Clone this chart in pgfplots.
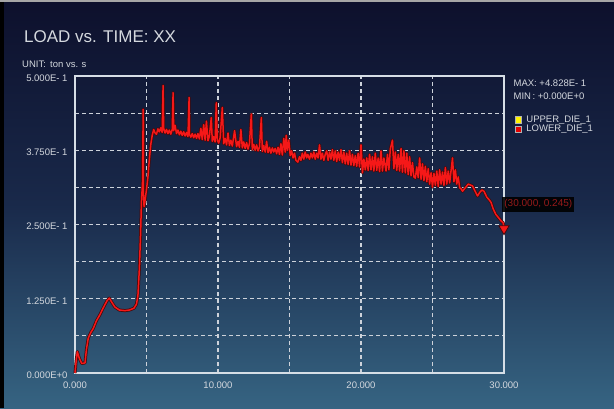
\documentclass[border=0pt]{standalone}
\usepackage{pgfplots}
\pgfplotsset{compat=1.18}
\usepackage{pgfplotstable}
\usepackage{fontspec}
\setmainfont{Liberation Sans}
\definecolor{txt}{RGB}{212,216,222}
\definecolor{bgtop}{RGB}{13,16,44}
\definecolor{bgmid}{RGB}{25,41,74}
\definecolor{bgbot}{RGB}{54,100,130}
\definecolor{linered}{RGB}{245,24,24}
\definecolor{lineout}{RGB}{70,8,10}
\definecolor{lbltxt}{RGB}{150,26,26}
\definecolor{gridc}{RGB}{205,210,218}
\definecolor{boxc}{RGB}{214,222,230}

\pgfplotstableread{
x y
0 0
0.08 0.02
0.16 0.036
0.3 0.025
0.47 0.016
0.7 0.017
0.8 0.04
0.93 0.059
1.1 0.068
1.28 0.075
1.5 0.088
1.74 0.098
1.9 0.106
2.09 0.115
2.25 0.122
2.4 0.126
2.55 0.12
2.79 0.111
3.1 0.106
3.49 0.105
3.8 0.106
4.12 0.109
4.3 0.116
4.4 0.13
4.5 0.175
4.58 0.23
4.65 0.29
4.72 0.32
4.77 0.444
4.79 0.30
4.83 0.28
4.88 0.287
4.95 0.30
5.0 0.309
5.1 0.33
5.2 0.36
5.3 0.385
5.4 0.40
5.5 0.410
5.6 0.404
5.7 0.402
5.8 0.411
5.9 0.406
6.0 0.413
6.1 0.405
6.16 0.484
6.2 0.412
6.3 0.404
6.4 0.410
6.5 0.403
6.6 0.409
6.7 0.402
6.8 0.410
6.86 0.472
6.9 0.408
7.0 0.417
7.1 0.403
7.2 0.409
7.3 0.401
7.4 0.407
7.5 0.400
7.6 0.406
7.7 0.399
7.8 0.405
7.9 0.398
7.98 0.464
8.0 0.402
8.1 0.397
8.2 0.403
8.3 0.396
8.4 0.402
8.5 0.395
8.6 0.403
8.7 0.394
8.8 0.412
8.9 0.393
9.0 0.418
9.1 0.392
9.19 0.424
9.3 0.391
9.4 0.399
9.53 0.430
9.6 0.390
9.7 0.398
9.8 0.389
9.88 0.455
9.95 0.392
10.05 0.387
10.15 0.396
10.3 0.447
10.4 0.386
10.5 0.395
10.6 0.384
10.7 0.404
10.8 0.383
10.9 0.392
11.0 0.382
11.16 0.408
11.3 0.381
11.4 0.390
11.5 0.380
11.6 0.410
11.7 0.379
11.8 0.389
11.9 0.378
12.0 0.388
12.1 0.377
12.2 0.386
12.33 0.436
12.4 0.376
12.5 0.385
12.6 0.375
12.7 0.384
12.8 0.374
12.9 0.380
13.03 0.430
13.1 0.373
13.2 0.383
13.3 0.372
13.4 0.390
13.5 0.371
13.6 0.380
13.7 0.370
13.8 0.379
13.9 0.372
14.0 0.378
14.1 0.369
14.2 0.380
14.3 0.368
14.4 0.386
14.5 0.367
14.6 0.395
14.7 0.372
14.77 0.400
14.85 0.375
14.95 0.392
15.05 0.366
15.15 0.374
15.25 0.362
15.35 0.370
15.45 0.358
15.58 0.355
15.7 0.364
15.8 0.358
15.9 0.370
16.0 0.360
16.1 0.372
16.2 0.362
16.28 0.368
16.4 0.360
16.5 0.370
16.6 0.362
16.7 0.372
16.8 0.360
16.9 0.370
17.0 0.362
17.1 0.384
17.2 0.360
17.3 0.370
17.4 0.358
17.5 0.368
17.6 0.374
17.7 0.358
17.8 0.372
17.9 0.360
18.0 0.376
18.1 0.358
18.2 0.374
18.3 0.356
18.4 0.372
18.5 0.358
18.6 0.376
18.7 0.354
18.8 0.372
18.9 0.352
19.0 0.370
19.1 0.351
19.2 0.374
19.3 0.350
19.4 0.368
19.5 0.349
19.6 0.366
19.7 0.348
19.8 0.370
19.9 0.347
20.0 0.384
20.1 0.337
20.2 0.360
20.3 0.342
20.4 0.362
20.5 0.341
20.6 0.368
20.7 0.342
20.8 0.364
20.9 0.340
21.0 0.370
21.1 0.341
21.2 0.362
21.3 0.339
21.4 0.374
21.5 0.340
21.6 0.362
21.75 0.340
21.85 0.368
21.95 0.342
22.05 0.377
22.2 0.392
22.3 0.344
22.4 0.372
22.5 0.341
22.6 0.368
22.7 0.340
22.8 0.378
22.9 0.338
23.0 0.374
23.1 0.337
23.2 0.370
23.3 0.334
23.4 0.364
23.5 0.332
23.6 0.354
23.7 0.330
23.8 0.328
23.9 0.347
24.0 0.329
24.1 0.362
24.2 0.326
24.3 0.352
24.4 0.324
24.5 0.348
24.6 0.322
24.7 0.344
24.8 0.318
24.9 0.337
25.0 0.313
25.1 0.336
25.2 0.316
25.3 0.340
25.4 0.314
25.5 0.342
25.6 0.318
25.7 0.338
25.8 0.316
25.9 0.346
26.0 0.318
26.1 0.340
26.2 0.320
26.4 0.362
26.5 0.322
26.6 0.342
26.7 0.318
26.8 0.330
26.9 0.312
27.0 0.310
27.1 0.306
27.3 0.312
27.5 0.318
27.8 0.315
28.0 0.305
28.15 0.298
28.3 0.304
28.45 0.308
28.6 0.306
28.8 0.296
28.95 0.292
29.1 0.287
29.25 0.276
29.43 0.267
29.6 0.262
29.8 0.256
29.94 0.253
30.0 0.245
}\loaddata

\begin{document}
\begin{tikzpicture}[x=1pt,y=1pt]
% background
\shade[top color=bgtop, bottom color=bgbot, middle color=bgmid] (0,0) rectangle (614,408);
\fill[black] (0,0) rectangle (4,408);
\fill[gray!70] (0,406) rectangle (614,408);
% titles
\node[anchor=base west, inner sep=0, text=txt, font=\fontsize{17}{20}\selectfont] at (24,365) {LOAD vs. TIME: XX};
\node[anchor=base west, inner sep=0, text=txt, font=\fontsize{9.5}{11}\selectfont] at (22,340) {UNIT:\, ton vs. s};
\begin{axis}[
  at={(75pt,35pt)}, anchor=south west,
  width=429pt, height=297pt, scale only axis,
  xmin=0, xmax=30, ymin=0, ymax=0.5,
  clip=false,
  axis line style={boxc, line width=2pt},
  xtick={0,10,20,30},
  xticklabels={0.000,10.000,20.000,30.000},
  minor xtick={5,15,25},
  ytick={0,0.125,0.25,0.375,0.5},
  yticklabels={0.000E+0,1.250E- 1,2.500E- 1,3.750E- 1,5.000E- 1},
  minor ytick={0.0625,0.1875,0.3125,0.4375},
  major tick length=0pt, minor tick length=0pt,
  grid=both,
  major grid style={gridc, line width=1.2pt, dash pattern=on 4pt off 3pt},
  minor grid style={gridc, line width=1.2pt, dash pattern=on 4pt off 3pt},
  /pgf/number format/assume math mode=true,
  ticklabel style={text=txt, font=\fontsize{9.5}{11}\selectfont},
  xticklabel style={yshift=-5pt},
  yticklabel style={xshift=-4pt, yshift=-2pt},
  legend style={at={(axis description cs:1.025,0.872)}, anchor=north west,
    draw=none, fill=none, text=txt, font=\fontsize{9.5}{11}\selectfont,
    inner sep=0pt, row sep=-1.5pt,
    nodes={inner sep=1.5pt}},
  legend cell align=left,
  legend image code/.code={\draw[#1, draw=gray!60, line width=0.6pt] (0pt,-3.2pt) rectangle (6.4pt,3.2pt);},
  /tikz/every even column/.append style={column sep=0pt},
]
\addlegendimage{fill=yellow}
\addlegendentry{\hspace{3pt}UPPER\_DIE\_1}
\addlegendimage{fill=red!90!black}
\addlegendentry{\hspace{3pt}LOWER\_DIE\_1}
\addplot[lineout, line width=3pt, line join=round, forget plot] table {\loaddata};
\addplot[linered, line width=1.5pt, line join=round, forget plot] table {\loaddata};
\addplot[only marks, mark=triangle*, mark size=6pt, line width=0.8pt, mark options={solid, rotate=180, fill=linered, draw=lineout}, forget plot] coordinates {(30,0.243)};
\node[fill=black, fill opacity=0.9, text opacity=1, text=lbltxt, inner xsep=2pt, inner ysep=3pt, font=\fontsize{10}{12}\selectfont] at (axis cs:32.4,0.284) {(30.000, 0.245)};
\node[anchor=base west, inner sep=0, text=txt, font=\fontsize{9.5}{11}\selectfont] at (axis description cs:1.022,0.966) {MAX: +4.828E- 1};
\node[anchor=base west, inner sep=0, text=txt, font=\fontsize{9.5}{11}\selectfont] at (axis description cs:1.022,0.922) {MIN\,: +0.000E+0};
\end{axis}
\end{tikzpicture}
\end{document}
